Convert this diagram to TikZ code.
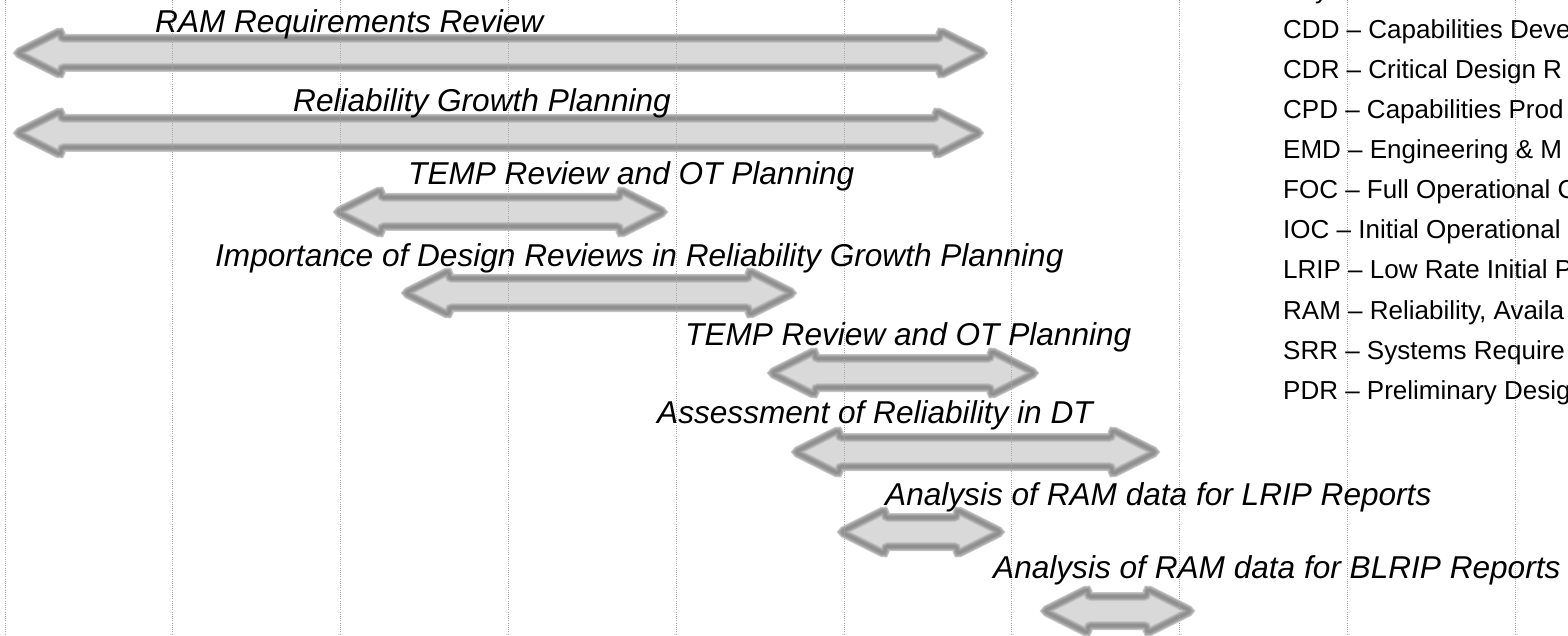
\documentclass[tikz,border=0pt]{standalone}
\usepackage{fontspec}
\setmainfont{Liberation Sans}
\definecolor{arrowfill}{HTML}{D9D9D9}
\definecolor{glowA}{HTML}{C6C6C6}
\definecolor{glowB}{HTML}{AEAEAE}
\definecolor{glowC}{HTML}{9E9E9E}
\definecolor{glowcore}{HTML}{909090}
\definecolor{gridgray}{HTML}{A8A8A8}
% #1 name, #2 left x, #3 right x, #4 centre y
\newcommand\DblArrow[4]{%
  \path[blockarrow] (#2,#4) -- ++(44,-22) -- ++(0,7.5) -- (#3-44,#4-14.5) -- ++(0,-7.5)
    -- (#3,#4) -- ++(-44,22) -- ++(0,-7.5) -- (#2+44,#4+14.5) -- ++(0,7.5) -- cycle;
  \coordinate (#1) at ({(#2+#3)/2},#4);}
\begin{document}
\begin{tikzpicture}[x=1pt,y=-1pt,
  lab/.style={anchor=base west, inner sep=0pt, font=\fontsize{31.6}{38}\selectfont\itshape},
  keyline/.style={anchor=base west, inner sep=0pt, font=\fontsize{26}{31}\selectfont},
  gridline/.style={draw=gridgray, line width=0.8pt, dash pattern=on 1pt off 1.2pt},
  blockarrow/.style={line join=round, rounded corners=3pt,
    preaction={fill=arrowfill},
    preaction={draw=glowA, line width=9pt},
    preaction={draw=glowB, line width=7pt},
    preaction={draw=glowC, line width=5pt},
    draw=glowcore, line width=3pt}]
\fill[white] (0,0) rectangle (1568,636);
\useasboundingbox (0,0) rectangle (1568,636);
% arrows
\DblArrow{a1}{17}{984}{53}
\DblArrow{a2}{17}{980}{133}
\DblArrow{a3}{337}{664}{212}
\DblArrow{a4}{405}{793}{293}
\DblArrow{a5}{771}{1035}{373}
\DblArrow{a6}{795}{1156}{452}
\DblArrow{a7}{841}{1001}{532}
\DblArrow{a8}{1044}{1191}{611}
% grid
\foreach \i in {0,...,9}
  \draw[gridline] ({5+167.8*\i},0) -- ({5+167.8*\i},636);
% labels
\node[lab] (l1) at (155,33) {RAM Requirements Review};
\node[lab] (l2) at (293,112) {Reliability Growth Planning};
\node[lab] (l3) at (408,185) {TEMP Review and OT Planning};
\node[lab] (l4) at (215,267) {Importance of Design Reviews in Reliability Growth Planning};
\node[lab] (l5) at (685,345) {TEMP Review and OT Planning};
\node[lab] (l6) at (657,423) {Assessment of Reliability in DT};
\node[lab] (l7) at (885,505) {Analysis of RAM data for LRIP Reports};
\node[lab] (l8) at (993,578) {Analysis of RAM data for BLRIP Reports};
% key
\node[keyline] (k0) at (1283,-1.5) {Key};
\node[keyline] (k1) at (1283,39) {CDD – Capabilities Deve};
\node[keyline] (k2) at (1283,79) {CDR – Critical Design R};
\node[keyline] (k3) at (1283,119) {CPD – Capabilities Prod};
\node[keyline] (k4) at (1283,159) {EMD – Engineering \& M};
\node[keyline] (k5) at (1283,199) {FOC – Full Operational C};
\node[keyline] (k6) at (1283,239) {IOC – Initial Operational};
\node[keyline] (k7) at (1283,279) {LRIP – Low Rate Initial P};
\node[keyline] (k8) at (1283,319) {RAM – Reliability, Availa};
\node[keyline] (k9) at (1283,359) {SRR – Systems Require};
\node[keyline] (k10) at (1283,399) {PDR – Preliminary Desig};
\end{tikzpicture}
\end{document}
